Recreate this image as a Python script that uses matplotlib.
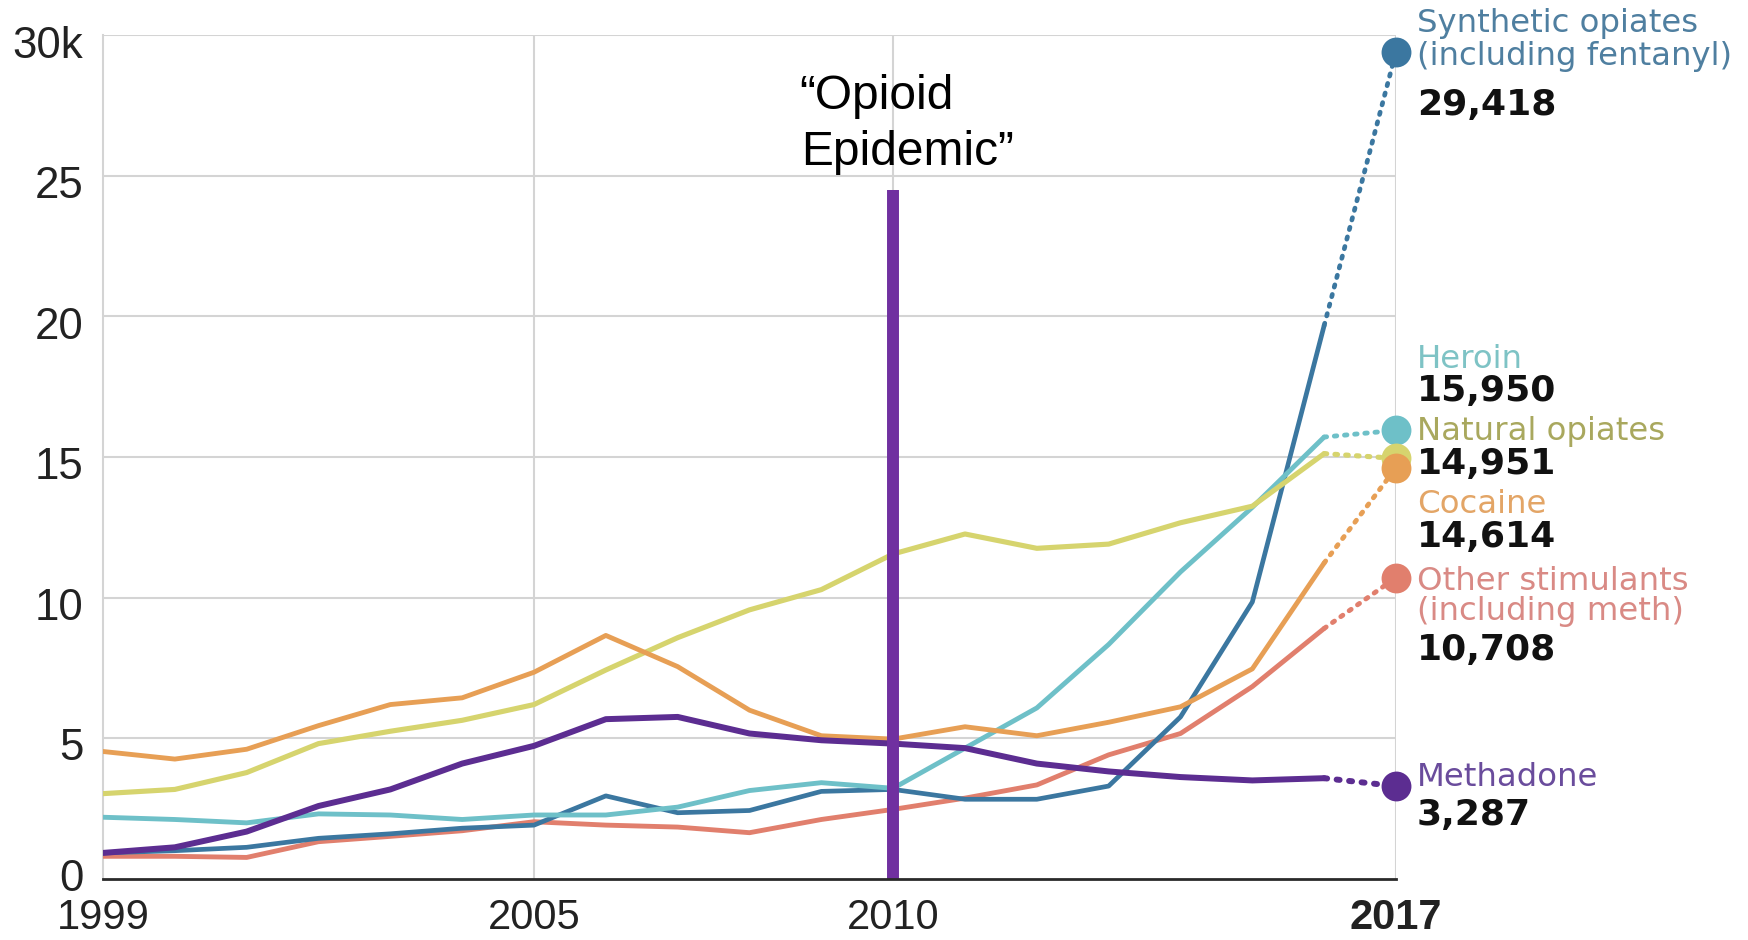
import matplotlib
matplotlib.use("Agg")
import matplotlib.pyplot as plt
from matplotlib.transforms import ScaledTranslation

# ---- data: overdose deaths by drug type, thousands ----
years = list(range(1999, 2018))

synthetic = [0.91, 0.99, 1.11, 1.43, 1.59, 1.79, 1.90, 2.94, 2.34, 2.42,
             3.10, 3.17, 2.82, 2.82, 3.29, 5.75, 9.84, 19.68, 29.418]
heroin = [2.18, 2.10, 1.98, 2.30, 2.26, 2.10, 2.26, 2.26, 2.54, 3.13,
          3.41, 3.21, 4.64, 6.07, 8.33, 10.91, 13.21, 15.71, 15.950]
natural = [3.02, 3.17, 3.77, 4.80, 5.24, 5.63, 6.19, 7.42, 8.57, 9.56,
           10.28, 11.55, 12.26, 11.75, 11.90, 12.66, 13.25, 15.12, 14.951]
cocaine = [4.52, 4.25, 4.60, 5.44, 6.19, 6.43, 7.34, 8.65, 7.54, 5.99,
           5.08, 4.96, 5.40, 5.08, 5.56, 6.11, 7.46, 11.23, 14.614]
stimulants = [0.79, 0.79, 0.75, 1.31, 1.50, 1.70, 2.02, 1.90, 1.83, 1.63,
              2.10, 2.46, 2.86, 3.33, 4.40, 5.16, 6.83, 8.90, 10.708]
methadone = [0.91, 1.11, 1.67, 2.58, 3.17, 4.09, 4.72, 5.67, 5.75, 5.16,
             4.92, 4.80, 4.64, 4.09, 3.81, 3.61, 3.49, 3.57, 3.287]

series_names = [
    ["Other stimulants", "(including meth)"],
    ["Synthetic opiates", "(including fentanyl)"],
    ["Heroin"],
    ["Natural opiates"],
    ["Cocaine"],
    ["Methadone"],
]
series_values = [stimulants, synthetic, heroin, natural, cocaine, methadone]

y_ticks = [0, 5, 10, 15, 20, 25, 30]
y_tick_labels = ["0", "5", "10", "15", "20", "25", "30k"]
x_ticks = [1999, 2005, 2010, 2017]
x_tick_labels = ["1999", "2005", "2010", "2017"]

epidemic_year = 2010
epidemic_top = 24.5
epidemic_text = ["\u201cOpioid", "Epidemic\u201d"]

# ---- styling ----
line_colors = ["#e17f6d", "#3b77a0", "#6ec0c8", "#d6d46e", "#e79f55", "#5c2d91"]
text_colors = ["#d98a85", "#4f7fa0", "#7ec3c5", "#a9a85e", "#e3a566", "#6a4c9c"]
line_widths = [3.5, 3.4, 3.5, 3.7, 3.5, 4.3]
# pixel offsets of the label lines (names..., value) from each end dot
label_offsets = [
    [-4, -34, -72],
    [28.5, -4.5, -53.5],
    [71, 39],
    [27, -6],
    [-37, -69],
    [8.5, -28.5],
]

W, H, DPI = 17.48, 9.40, 100
fig = plt.figure(figsize=(W, H), dpi=DPI)
fig.patch.set_facecolor("white")
ax = fig.add_axes([103 / 1748, 1 - 878.5 / 940, (1396 - 103) / 1748, (878.5 - 35.5) / 940])

ax.set_xlim(1999, 2017)
ax.set_ylim(0, 30)

grid_c = "#d4d4d4"
for yv in y_ticks[1:]:
    ax.axhline(yv, color=grid_c, lw=1.5, zorder=0)
for xv in x_ticks[1:]:
    ax.axvline(xv, color=grid_c, lw=1.5, zorder=0)

for sp in ["top", "right"]:
    ax.spines[sp].set_visible(False)
ax.spines["left"].set_color(grid_c)
ax.spines["left"].set_linewidth(1.5)
ax.spines["bottom"].set_color("#2a2a2a")
ax.spines["bottom"].set_linewidth(2.0)
ax.spines["bottom"].set_zorder(6)

# series lines: solid through 2016, dotted to the 2017 figure
for vals, col, lw in zip(series_values, line_colors, line_widths):
    ax.plot(years[:-1], vals[:-1], color=col, lw=lw, solid_joinstyle="round",
            solid_capstyle="round", zorder=3)
    ax.plot(years[-2:], vals[-2:], color=col, lw=lw, linestyle=(0, (0.5, 1.6)),
            dash_capstyle="round", zorder=3)

# end dots, drawn so cocaine sits over natural opiates over heroin
dot_order = [1, 0, 5, 2, 3, 4]
for i in dot_order:
    ax.plot([years[-1]], [series_values[i][-1]], "o", ms=21.5, color=line_colors[i],
            mec="none", zorder=5, clip_on=False)

# end labels
for names, vals, tcol, offs in zip(series_names, series_values, text_colors, label_offsets):
    v = vals[-1]
    for name, dy in zip(names, offs[:-1]):
        ax.annotate(name, xy=(years[-1], v), xytext=(21, dy), textcoords="offset pixels",
                    ha="left", va="center", color=tcol, fontsize=23.3,
                    family="DejaVu Sans", annotation_clip=False)
    ax.annotate(f"{int(round(v * 1000)):,}", xy=(years[-1], v), xytext=(21, offs[-1]),
                textcoords="offset pixels", ha="left", va="center", color="#111111",
                fontsize=26, fontweight="bold", family="DejaVu Sans",
                annotation_clip=False)

# epidemic marker
ax.plot([epidemic_year, epidemic_year], [0, epidemic_top], color="#7030a0", lw=8.6,
        solid_capstyle="butt", zorder=4)
ax.annotate(epidemic_text[0], xy=(epidemic_year, epidemic_top), xytext=(-94, 81),
            textcoords="offset pixels", ha="left", va="baseline", fontsize=34.5,
            family="Liberation Sans", color="black", annotation_clip=False)
ax.annotate(epidemic_text[1], xy=(epidemic_year, epidemic_top), xytext=(-92, 25),
            textcoords="offset pixels", ha="left", va="baseline", fontsize=34.5,
            family="Liberation Sans", color="black", annotation_clip=False)

# ticks
ax.set_yticks(y_ticks)
ax.set_yticklabels(y_tick_labels, family="Liberation Sans", fontsize=31.5, color="#222222")
ax.set_xticks(x_ticks)
ax.set_xticklabels(x_tick_labels, family="Liberation Sans", fontsize=30, color="#222222")
ax.tick_params(axis="both", length=0)
ax.tick_params(axis="y", pad=14)
ax.tick_params(axis="x", pad=14)
ax.get_xticklabels()[-1].set_fontweight("bold")
for lbl, val in zip(ax.get_yticklabels(), y_ticks):
    dy = 2.5 if val == 0 else -4.5
    lbl.set_transform(lbl.get_transform() + ScaledTranslation(0, dy / 72, fig.dpi_scale_trans))

fig.savefig("out.png", dpi=DPI, facecolor="white")
